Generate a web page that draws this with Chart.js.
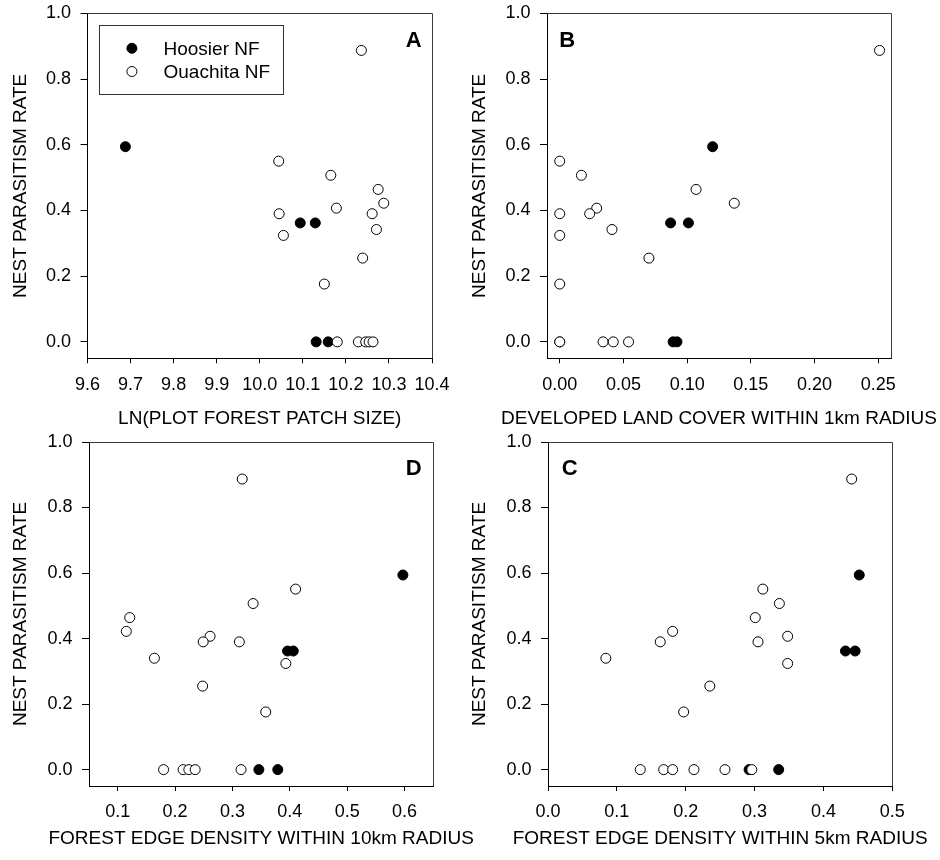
<!DOCTYPE html>
<html>
<head>
<meta charset="utf-8">
<script src="https://cdn.jsdelivr.net/npm/chart.js@4.4.1/dist/chart.umd.min.js"></script>
<style>
  html, body { margin: 0; padding: 0; background: #fff; }
  #wrap { position: relative; width: 940px; height: 860px; background: #fff; overflow: hidden; }
  canvas { position: absolute; }
</style>
</head>
<body>
<div id="wrap">
  <canvas id="cA" width="480" height="430" style="left:0px;top:0px"></canvas>
  <canvas id="cB" width="480" height="430" style="left:460px;top:0px"></canvas>
  <canvas id="cD" width="480" height="430" style="left:0px;top:430px"></canvas>
  <canvas id="cC" width="480" height="430" style="left:460px;top:430px"></canvas>
</div>
<script>
// ---------------- DATA ----------------
const seriesNames = ['Hoosier NF', 'Ouachita NF'];
const yTitle = 'NEST PARASITISM RATE';
const yTicks = [0.0, 0.2, 0.4, 0.6, 0.8, 1.0];

// Panel A: LN(PLOT FOREST PATCH SIZE)
const aXTitle = 'LN(PLOT FOREST PATCH SIZE)';
const aXTicks = [9.6, 9.7, 9.8, 9.9, 10.0, 10.1, 10.2, 10.3, 10.4];
const aHoosierX = [9.688, 10.094, 10.129, 10.131, 10.159];
const aHoosierY = [0.594, 0.362, 0.362, 0.0, 0.0];
const aOuachitaX = [10.236, 10.044, 10.165, 10.275, 10.288, 10.178, 10.045, 10.261, 10.271, 10.055, 10.239, 10.150, 10.180, 10.229, 10.246, 10.254, 10.263];
const aOuachitaY = [0.887, 0.550, 0.507, 0.464, 0.422, 0.407, 0.390, 0.390, 0.342, 0.324, 0.255, 0.176, 0.0, 0.0, 0.0, 0.0, 0.0];

// Panel B: DEVELOPED LAND COVER WITHIN 1km RADIUS
const bXTitle = 'DEVELOPED LAND COVER WITHIN 1km RADIUS';
const bXTicks = [0.00, 0.05, 0.10, 0.15, 0.20, 0.25];
const bHoosierX = [0.120, 0.087, 0.101, 0.089, 0.092];
const bHoosierY = [0.594, 0.362, 0.362, 0.0, 0.0];
const bOuachitaX = [0.251, 0.000, 0.017, 0.107, 0.137, 0.029, 0.000, 0.0235, 0.041, 0.000, 0.070, 0.000, 0.000, 0.000, 0.034, 0.042, 0.054];
const bOuachitaY = [0.887, 0.550, 0.507, 0.464, 0.422, 0.407, 0.390, 0.390, 0.342, 0.324, 0.255, 0.176, 0.0, 0.0, 0.0, 0.0, 0.0];

// Panel D: FOREST EDGE DENSITY WITHIN 10km RADIUS
const dXTitle = 'FOREST EDGE DENSITY WITHIN 10km RADIUS';
const dXTicks = [0.1, 0.2, 0.3, 0.4, 0.5, 0.6];
const dHoosierX = [0.597, 0.396, 0.406, 0.346, 0.379];
const dHoosierY = [0.594, 0.362, 0.362, 0.0, 0.0];
const dOuachitaX = [0.317, 0.410, 0.336, 0.121, 0.115, 0.261, 0.249, 0.312, 0.164, 0.393, 0.248, 0.358, 0.180, 0.214, 0.224, 0.235, 0.315];
const dOuachitaY = [0.887, 0.551, 0.507, 0.464, 0.422, 0.407, 0.390, 0.390, 0.340, 0.324, 0.255, 0.176, 0.0, 0.0, 0.0, 0.0, 0.0];

// Panel C: FOREST EDGE DENSITY WITHIN 5km RADIUS
const cXTitle = 'FOREST EDGE DENSITY WITHIN 5km RADIUS';
const cXTicks = [0.0, 0.1, 0.2, 0.3, 0.4, 0.5];
const cHoosierX = [0.452, 0.432, 0.446, 0.292, 0.335];
const cHoosierY = [0.594, 0.362, 0.362, 0.0, 0.0];
const cOuachitaX = [0.441, 0.312, 0.336, 0.301, 0.181, 0.348, 0.163, 0.305, 0.084, 0.348, 0.235, 0.197, 0.134, 0.168, 0.181, 0.212, 0.257, 0.296];
const cOuachitaY = [0.887, 0.551, 0.507, 0.464, 0.422, 0.407, 0.390, 0.390, 0.340, 0.324, 0.255, 0.176, 0.0, 0.0, 0.0, 0.0, 0.0, 0.0];

// ---------------- RENDERING ----------------
const FONT = '"Liberation Sans", Arial, Helvetica, sans-serif';
const TICK_SIZE = 18;
const TITLE_SIZE = 19;

function pts(xs, ys) { return xs.map((x, i) => ({ x: x, y: ys[i] })); }

const decorPlugin = {
  id: 'decor',
  afterDraw(chart, args, o) {
    const ctx = chart.ctx, a = chart.chartArea;
    ctx.save();
    // top and right frame
    ctx.strokeStyle = '#3a3a3a';
    ctx.lineWidth = 1;
    ctx.beginPath();
    ctx.moveTo(a.left, Math.round(a.top) + 0.5);
    ctx.lineTo(Math.round(a.right) + 0.5, Math.round(a.top) + 0.5);
    ctx.lineTo(Math.round(a.right) + 0.5, a.bottom);
    ctx.stroke();
    // x title
    ctx.fillStyle = '#000';
    ctx.font = TITLE_SIZE + 'px ' + FONT;
    ctx.textAlign = 'center';
    ctx.textBaseline = 'middle';
    ctx.fillText(o.xTitle, (a.left + a.right) / 2, a.bottom + o.xTitleOffset);
    // panel letter
    ctx.font = 'bold 22px ' + FONT;
    ctx.textBaseline = 'alphabetic';
    if (o.letterSide === 'right') {
      ctx.textAlign = 'right';
      ctx.fillText(o.letter, a.right - o.letterDx, a.top + o.letterDy);
    } else {
      ctx.textAlign = 'left';
      ctx.fillText(o.letter, a.left + o.letterDx, a.top + o.letterDy);
    }
    // legend
    if (o.legend) {
      const bx = a.left + 11, by = a.top + 11.7, bw = 184, bh = 69;
      ctx.strokeStyle = '#333';
      ctx.lineWidth = 1;
      ctx.strokeRect(Math.round(bx) + 0.5, Math.round(by) + 0.5, bw, bh);
      const ds = chart.data.datasets;
      const rows = [by + 23.3, by + 46.5];
      ctx.font = TITLE_SIZE + 'px ' + FONT;
      ctx.textAlign = 'left';
      ctx.textBaseline = 'middle';
      ds.forEach((d, i) => {
        ctx.beginPath();
        ctx.arc(a.left + 44.4, rows[i], 5, 0, Math.PI * 2);
        ctx.fillStyle = d.pointBackgroundColor;
        ctx.fill();
        ctx.strokeStyle = d.pointBorderColor;
        ctx.lineWidth = 1;
        ctx.stroke();
        ctx.fillStyle = '#000';
        ctx.fillText(d.label, a.left + 76, rows[i] + 1);
      });
    }
    ctx.restore();
  }
};

function makePanel(cfg) {
  const hoosier = {
    label: seriesNames[0],
    data: pts(cfg.hx, cfg.hy),
    pointRadius: 5,
    pointBackgroundColor: '#000',
    pointBorderColor: '#000',
    pointBorderWidth: 1,
    showLine: false,
    order: 1,
    clip: false
  };
  const ouachita = {
    label: seriesNames[1],
    data: pts(cfg.ox, cfg.oy),
    pointRadius: 5,
    pointBackgroundColor: '#fff',
    pointBorderColor: '#000',
    pointBorderWidth: 1,
    showLine: false,
    order: 0,
    clip: false
  };
  return new Chart(document.getElementById(cfg.id), {
    type: 'scatter',
    data: { datasets: [hoosier, ouachita] },
    plugins: [decorPlugin],
    options: {
      responsive: false,
      animation: false,
      devicePixelRatio: 1,
      events: [],
      layout: { padding: { left: 0, top: cfg.padTop, right: cfg.padRight, bottom: 0 } },
      plugins: {
        legend: { display: false },
        tooltip: { enabled: false },
        decor: {
          xTitle: cfg.xTitle,
          xTitleOffset: cfg.xTitleOffset,
          letter: cfg.letter,
          letterSide: cfg.letterSide,
          letterDx: cfg.letterDx,
          letterDy: cfg.letterDy,
          legend: !!cfg.legend
        }
      },
      scales: {
        x: {
          type: 'linear',
          position: 'bottom',
          min: cfg.xMin,
          max: cfg.xMax,
          afterBuildTicks: (s) => { s.ticks = cfg.xTicks.map(v => ({ value: v })); },
          afterFit: (s) => { s.height = cfg.xHeight; s.paddingLeft = 0; s.paddingRight = 0; },
          ticks: {
            autoSkip: false,
            maxRotation: 0,
            minRotation: 0,
            padding: cfg.xTickPad,
            color: '#000',
            font: { family: FONT, size: TICK_SIZE },
            callback: (v) => Number(v).toFixed(cfg.xDec)
          },
          grid: { display: true, drawOnChartArea: false, drawTicks: true, tickLength: 5, color: '#000', lineWidth: 1 },
          border: { display: true, color: '#000', width: 1 }
        },
        y: {
          type: 'linear',
          position: 'left',
          min: -0.05,
          max: 1.0,
          afterBuildTicks: (s) => { s.ticks = yTicks.map(v => ({ value: v })); },
          afterFit: (s) => { s.width = cfg.yWidth; s.paddingTop = 0; s.paddingBottom = 0; },
          ticks: {
            padding: 9.5,
            color: '#000',
            font: { family: FONT, size: TICK_SIZE },
            callback: (v) => Number(v).toFixed(1)
          },
          grid: { display: true, drawOnChartArea: false, drawTicks: true, tickLength: 7, color: '#000', lineWidth: 1 },
          border: { display: true, color: '#000', width: 1 },
          title: {
            display: true,
            text: yTitle,
            color: '#000',
            font: { family: FONT, size: TITLE_SIZE },
            padding: { top: cfg.yTitlePad, bottom: 0 }
          }
        }
      }
    }
  });
}

makePanel({
  id: 'cA', hx: aHoosierX, hy: aHoosierY, ox: aOuachitaX, oy: aOuachitaY,
  xTicks: aXTicks, xMin: 9.6, xMax: 10.4, xDec: 1, xTitle: aXTitle,
  padTop: 13.3, padRight: 48, yWidth: 87.5, xHeight: 71.7, xTickPad: 10.9,
  yTitlePad: 9.6, xTitleOffset: 60,
  letter: 'A', letterSide: 'right', letterDx: 10.3, letterDy: 33.4, legend: true
});
makePanel({
  id: 'cB', hx: bHoosierX, hy: bHoosierY, ox: bOuachitaX, oy: bOuachitaY,
  xTicks: bXTicks, xMin: -0.01, xMax: 0.26, xDec: 2, xTitle: bXTitle,
  padTop: 13.3, padRight: 49, yWidth: 87, xHeight: 71.7, xTickPad: 10.9,
  yTitlePad: 8.6, xTitleOffset: 60,
  letter: 'B', letterSide: 'left', letterDx: 12.3, letterDy: 33.4
});
makePanel({
  id: 'cD', hx: dHoosierX, hy: dHoosierY, ox: dOuachitaX, oy: dOuachitaY,
  xTicks: dXTicks, xMin: 0.05, xMax: 0.65, xDec: 1, xTitle: dXTitle,
  padTop: 12, padRight: 46.7, yWidth: 89, xHeight: 74, xTickPad: 9.9,
  yTitlePad: 9.6, xTitleOffset: 52.3,
  letter: 'D', letterSide: 'right', letterDx: 11.6, letterDy: 33
});
makePanel({
  id: 'cC', hx: cHoosierX, hy: cHoosierY, ox: cOuachitaX, oy: cOuachitaY,
  xTicks: cXTicks, xMin: 0.0, xMax: 0.5, xDec: 1, xTitle: cXTitle,
  padTop: 12, padRight: 47.7, yWidth: 88, xHeight: 74, xTickPad: 9.9,
  yTitlePad: 8.6, xTitleOffset: 52.3,
  letter: 'C', letterSide: 'left', letterDx: 13.7, letterDy: 33
});
</script>
</body>
</html>
